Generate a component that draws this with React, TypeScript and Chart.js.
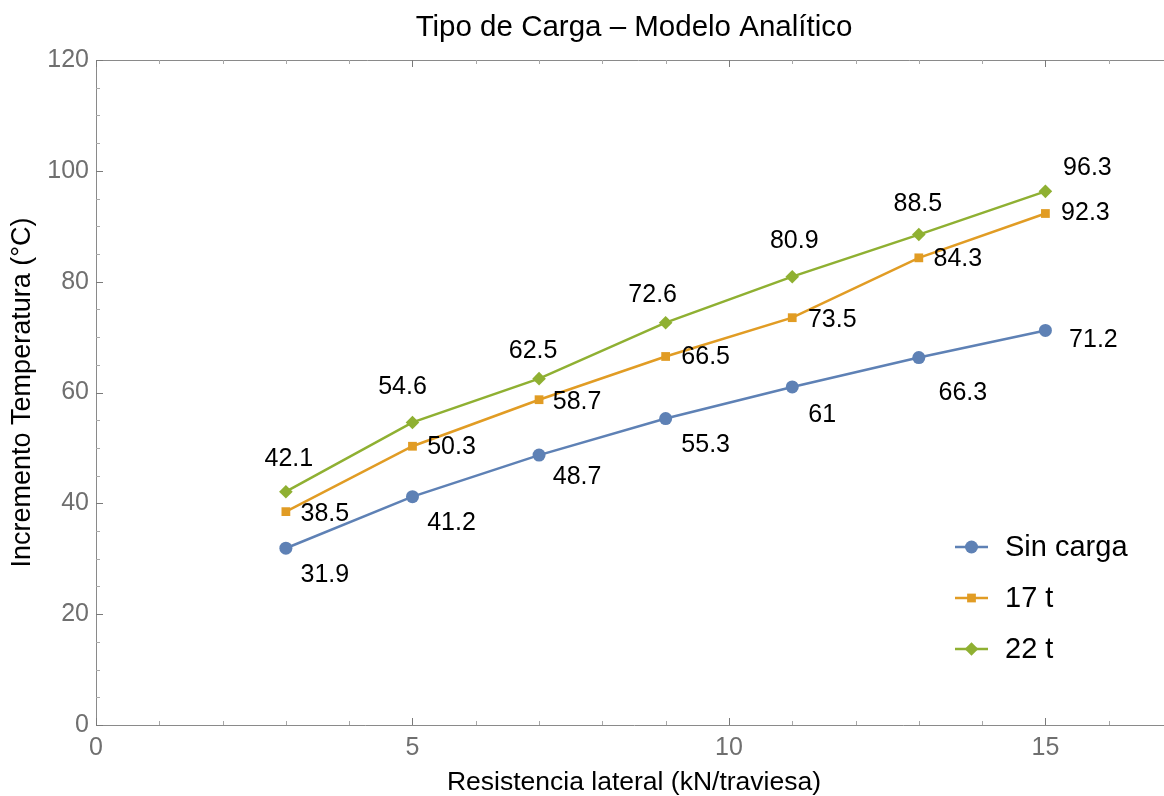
import React, { useEffect, useRef } from "react";
import { Chart, registerables } from "chart.js";

Chart.register(...registerables);

// ---- data ----
const xValues = [3, 5, 7, 9, 11, 13, 15];
const sinCarga = [31.9, 41.2, 48.7, 55.3, 61, 66.3, 71.2];
const carga17 = [38.5, 50.3, 58.7, 66.5, 73.5, 84.3, 92.3];
const carga22 = [42.1, 54.6, 62.5, 72.6, 80.9, 88.5, 96.3];
const seriesNames = ["Sin carga", "17 t", "22 t"];
const xTickValues = [0, 5, 10, 15];
const yTickValues = [0, 20, 40, 60, 80, 100, 120];

const TITLE = "Tipo de Carga \u2013 Modelo Anal\u00edtico";
const X_TITLE = "Resistencia lateral (kN/traviesa)";
const Y_TITLE = "Incremento Temperatura (\u00b0C)";

// ---- styles ----
const FONT = "'Liberation Sans', Arial, sans-serif";
const COLORS = ["#5E81B5", "#E19C24", "#8FB032"];
const POINT_STYLES = ["circle", "rect", "rectRot"];
const POINT_RADII = [6.5, 6.2, 6.8];
// callout placement (pixel offsets of each label centre from its point)
const LABEL_DX = [
  [39, 39, 38, 40, 30, 44, 48],
  [39, 39, 38, 40, 40, 39, 40],
  [3, -10, -6, -13, 2, -1, 42],
];
const LABEL_DY = [
  [27, 26, 22, 27, 28, 36, 10],
  [2, 1, 2, 1, 2, 1, 0],
  [-33, -35, -28, -28, -36, -30, -23],
];
const X_MIN = 0;
const X_MAX = 17;
const Y_MIN = 0;
const Y_MAX = 120;

function drawMarker(ctx: CanvasRenderingContext2D, style: string, x: number, y: number, r: number, color: string) {
  ctx.save();
  ctx.fillStyle = color;
  ctx.beginPath();
  if (style === "circle") {
    ctx.arc(x, y, r, 0, Math.PI * 2);
  } else if (style === "rect") {
    const s = Math.SQRT1_2 * r;
    ctx.rect(x - s, y - s, 2 * s, 2 * s);
  } else {
    ctx.moveTo(x, y - r);
    ctx.lineTo(x + r, y);
    ctx.lineTo(x, y + r);
    ctx.lineTo(x - r, y);
    ctx.closePath();
  }
  ctx.fill();
  ctx.restore();
}

const framePlugin = {
  id: "frameTicks",
  beforeDatasetsDraw(chart: any) {
    const { ctx, chartArea, scales } = chart;
    const xs = scales.x;
    const ys = scales.y;
    ctx.save();
    ctx.strokeStyle = "#8a8a8a";
    ctx.lineWidth = 1;
    // top frame
    ctx.beginPath();
    ctx.moveTo(chartArea.left, chartArea.top + 0.5);
    ctx.lineTo(chartArea.right + 20, chartArea.top + 0.5);
    ctx.stroke();
    // x ticks (bottom and top, pointing inward)
    for (let v = X_MIN; v <= X_MAX; v += 1) {
      const major = v % 5 === 0;
      const len = major ? 7 : 4;
      const px = Math.round(xs.getPixelForValue(v)) + 0.5;
      ctx.strokeStyle = major ? "#7a7a7a" : "#a8a8a8";
      ctx.beginPath();
      ctx.moveTo(px, chartArea.bottom);
      ctx.lineTo(px, chartArea.bottom - len);
      ctx.moveTo(px, chartArea.top);
      ctx.lineTo(px, chartArea.top + len);
      ctx.stroke();
    }
    // y ticks (left, pointing inward)
    for (let v = Y_MIN; v <= Y_MAX; v += 5) {
      const major = v % 20 === 0;
      const len = major ? 7 : 4;
      const py = Math.round(ys.getPixelForValue(v)) + 0.5;
      ctx.strokeStyle = major ? "#7a7a7a" : "#a8a8a8";
      ctx.beginPath();
      ctx.moveTo(chartArea.left, py);
      ctx.lineTo(chartArea.left + len, py);
      ctx.stroke();
    }
    ctx.restore();
  },
};

const labelsPlugin = {
  id: "pointLabels",
  afterDatasetsDraw(chart: any) {
    const { ctx } = chart;
    ctx.save();
    ctx.font = `25px ${FONT}`;
    ctx.fillStyle = "#000";
    ctx.textAlign = "center";
    ctx.textBaseline = "middle";
    chart.data.datasets.forEach((ds: any, i: number) => {
      const meta = chart.getDatasetMeta(i);
      meta.data.forEach((pt: any, j: number) => {
        const val = ds.data[j].y;
        ctx.fillText(String(val), pt.x + LABEL_DX[i][j], pt.y + LABEL_DY[i][j]);
      });
    });
    ctx.restore();
  },
};

const titleLegendPlugin = {
  id: "titleLegend",
  afterDraw(chart: any) {
    const { ctx, chartArea } = chart;
    ctx.save();
    // title
    ctx.font = `29.5px ${FONT}`;
    ctx.fillStyle = "#000";
    ctx.textAlign = "center";
    ctx.textBaseline = "middle";
    ctx.fillText(TITLE, (chartArea.left + chartArea.right) / 2, 28);
    // legend
    const lx0 = chartArea.right - 217;
    const ly0 = chartArea.bottom - 178;
    const gap = 51;
    ctx.font = `29px ${FONT}`;
    ctx.textAlign = "left";
    seriesNames.forEach((name, i) => {
      const y = ly0 + i * gap;
      ctx.strokeStyle = COLORS[i];
      ctx.lineWidth = 2.5;
      ctx.beginPath();
      ctx.moveTo(lx0, y);
      ctx.lineTo(lx0 + 33, y);
      ctx.stroke();
      drawMarker(ctx, POINT_STYLES[i], lx0 + 16.5, y, POINT_RADII[i], COLORS[i]);
      ctx.fillStyle = "#000";
      ctx.fillText(name, lx0 + 50, y + 1);
    });
    ctx.restore();
  },
};

export default function App() {
  const canvasRef = useRef<HTMLCanvasElement | null>(null);

  useEffect(() => {
    if (!canvasRef.current) return;
    const seriesValues = [sinCarga, carga17, carga22];
    const chart = new Chart(canvasRef.current, {
      type: "line",
      data: {
        datasets: seriesValues.map((vals, i) => ({
          label: seriesNames[i],
          data: vals.map((y, j) => ({ x: xValues[j], y })),
          borderColor: COLORS[i],
          backgroundColor: COLORS[i],
          borderWidth: 2.5,
          pointStyle: POINT_STYLES[i] as any,
          pointRadius: POINT_RADII[i],
          pointBorderWidth: 0,
          pointBackgroundColor: COLORS[i],
          tension: 0,
          fill: false,
        })),
      },
      options: {
        animation: false,
        responsive: false,
        devicePixelRatio: 1,
        layout: { padding: { top: 60, right: 8, bottom: 0, left: 0 } },
        plugins: {
          legend: { display: false },
          title: { display: false },
          tooltip: { enabled: false },
        },
        scales: {
          x: {
            type: "linear",
            min: X_MIN,
            max: X_MAX,
            afterBuildTicks: (s: any) => {
              s.ticks = xTickValues.map((v) => ({ value: v }));
            },
            afterFit: (s: any) => {
              s.height = 71;
            },
            grid: { display: true, drawOnChartArea: false, drawTicks: false },
            border: { display: true, color: "#8a8a8a", width: 1 },
            ticks: {
              color: "#6f6f6f",
              font: { family: FONT, size: 25 },
              padding: 8,
              maxRotation: 0,
              autoSkip: false,
            },
            title: {
              display: true,
              text: X_TITLE,
              color: "#000",
              font: { family: FONT, size: 26.5, lineHeight: 1 },
              padding: { top: 0, bottom: 0 },
            },
          },
          y: {
            type: "linear",
            min: Y_MIN,
            max: Y_MAX,
            afterBuildTicks: (s: any) => {
              s.ticks = yTickValues.map((v) => ({ value: v }));
            },
            afterFit: (s: any) => {
              s.width = 96;
            },
            grid: { display: true, drawOnChartArea: false, drawTicks: false },
            border: { display: true, color: "#8a8a8a", width: 1 },
            ticks: {
              color: "#6f6f6f",
              font: { family: FONT, size: 25 },
              padding: 7,
              autoSkip: false,
            },
            title: {
              display: true,
              text: Y_TITLE,
              color: "#000",
              font: { family: FONT, size: 27, lineHeight: 1 },
              padding: { top: 9, bottom: 0 },
            },
          },
        },
      },
      plugins: [framePlugin, labelsPlugin, titleLegendPlugin],
    });
    return () => chart.destroy();
  }, []);

  return (
    <div
      style={{
        position: "fixed",
        left: 0,
        top: 0,
        width: 1164,
        height: 796,
        overflow: "hidden",
        background: "#fff",
      }}
    >
      <canvas ref={canvasRef} width={1180} height={796} style={{ display: "block", width: 1180, height: 796 }} />
    </div>
  );
}
